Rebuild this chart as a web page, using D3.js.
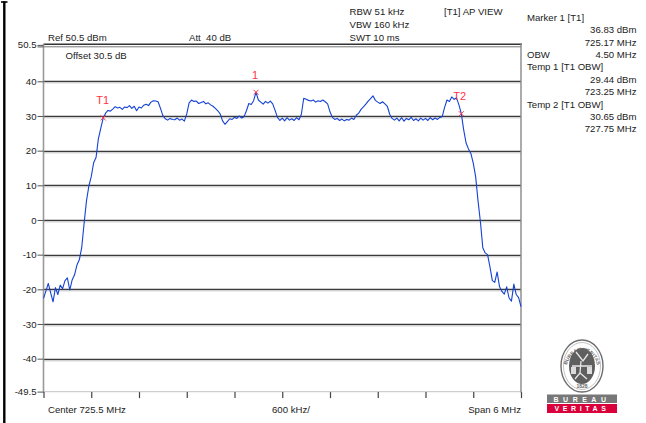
<!DOCTYPE html>
<html><head><meta charset="utf-8">
<script src="https://cdn.jsdelivr.net/npm/d3@7"></script>
<style>
html,body{margin:0;padding:0;background:#fff;}
svg{display:block;font-family:"Liberation Sans",Arial,sans-serif;}
</style></head>
<body><svg id="c" width="646" height="423"></svg>
<script>
// ---- data ----
const freqStart = 722.5, freqStep = 0.03; // MHz
const traceLevels = [
-22.6,-20.5,-18.3,-21.0,-23.6,-19.5,-21.5,-18.8,-19.8,-17.5,
-16.7,-20.2,-17.3,-15.8,-13.0,-11.5,-8.0,-1.0,5.5,9.8,
12.5,16.5,18.0,23.5,26.5,29.4,30.8,31.6,31.4,32.0,
32.7,32.3,32.5,31.9,32.6,32.4,33.0,32.2,32.8,31.5,
32.6,32.3,33.1,33.4,33.0,34.0,34.4,34.3,34.1,32.2,
30.1,29.2,28.8,29.3,29.0,28.9,29.4,28.8,29.1,28.5,
30.6,33.8,34.6,34.2,34.3,33.6,33.9,34.2,33.5,33.8,
33.2,32.8,32.2,31.5,30.6,28.6,27.6,28.4,29.2,29.0,
29.6,29.3,30.0,29.4,29.8,31.5,33.6,33.3,34.4,36.8,
34.6,34.0,33.4,34.2,33.7,34.3,33.5,31.6,29.6,28.7,
29.4,28.6,29.5,28.8,29.2,28.7,29.5,28.9,30.5,35.1,
34.8,34.5,34.3,34.6,34.0,34.4,34.2,34.6,34.1,33.5,
31.2,29.6,29.0,29.3,28.7,29.1,28.6,29.0,28.8,29.4,
29.0,30.2,30.8,31.9,32.6,33.4,34.3,35.0,35.8,34.5,
34.0,33.6,34.1,33.5,32.8,30.5,29.3,28.8,29.4,28.6,
29.5,28.5,29.3,28.9,29.6,28.7,29.2,28.6,29.4,28.8,
29.3,28.7,29.5,28.9,29.4,29.0,29.6,29.8,32.5,34.6,
34.2,35.5,34.8,35.2,33.2,30.7,26.0,22.2,20.5,19.2,
16.4,12.5,5.5,-0.5,-8.0,-9.5,-10.0,-13.5,-17.5,-18.0,
-15.0,-19.2,-20.6,-21.4,-19.3,-22.5,-23.4,-18.5,-21.5,-22.4,
-25.0];
const yTicks = [50.5,40,30,20,10,0,-10,-20,-30,-40,-49.5];
const yTickLabels = ["50.5","40","30","20","10","0","-10","-20","-30","-40","-49.5"];
const xTicks = [722.5,723.1,723.7,724.3,724.9,725.5,726.1,726.7,727.3,727.9,728.5];
const markerNames = ["1","T1","T2"];
const markerFreqs = [725.17,723.25,727.75];
const markerLevels = [36.83,29.44,30.65];
const headerLeft = ["Ref 50.5 dBm","Att\u00a0 40 dB","Offset 30.5 dB"];
const headerMid = ["RBW 51 kHz","VBW 160 kHz","SWT 10 ms"];
const headerView = "[T1] AP VIEW";
const sideLabels = ["Marker 1 [T1]","","","OBW","Temp 1 [T1 OBW]","","","Temp 2 [T1 OBW]","",""];
const sideValues = ["","36.83 dBm","725.17 MHz","4.50 MHz","","29.44 dBm","723.25 MHz","","30.65 dBm","727.75 MHz"];
const footer = ["Center 725.5 MHz","600 kHz/","Span 6 MHz"];

const data = traceLevels.map((v,i)=>({f:freqStart+i*freqStep, v}));

// ---- chart ----
const svg = d3.select("#c");
const L=43.5, R=521, T=44.9, B=391.6;
const x = d3.scaleLinear().domain([722.5,728.5]).range([L,R]);
const y = d3.scaleLinear().domain([-49.5,50.5]).range([B,T]);

// left frame bar
svg.append("line").attr("x1",4.3).attr("x2",4.3).attr("y1",1.5).attr("y2",423).attr("stroke","#000").attr("stroke-width",2.4);
svg.append("line").attr("x1",1).attr("x2",7.5).attr("y1",2).attr("y2",2).attr("stroke","#000").attr("stroke-width",1.6);

// grid
const inner = yTicks.filter(t=>t!==50.5 && t!==-49.5);
svg.append("g").selectAll("line").data(inner).join("line")
  .attr("x1",L).attr("x2",R).attr("y1",d=>Math.round(y(d))+0.5).attr("y2",d=>Math.round(y(d))+0.5)
  .attr("stroke","#3a3a3a").attr("stroke-width",1.5);
svg.append("g").selectAll("line").data(inner).join("line")
  .attr("x1",L).attr("x2",R).attr("y1",d=>Math.round(y(d))+2).attr("y2",d=>Math.round(y(d))+2)
  .attr("stroke","#d8d8d8").attr("stroke-width",1);
// top frame
svg.append("line").attr("x1",L).attr("x2",R+1).attr("y1",44.3).attr("y2",44.3).attr("stroke","#333").attr("stroke-width",1.6);
svg.append("line").attr("x1",L).attr("x2",R).attr("y1",46.8).attr("y2",46.8).attr("stroke","#777").attr("stroke-width",1);
// bottom frame
svg.append("line").attr("x1",L).attr("x2",R).attr("y1",B).attr("y2",B).attr("stroke","#cfcfcf").attr("stroke-width",1.2);
// left & right border
svg.append("line").attr("x1",L).attr("x2",L).attr("y1",44).attr("y2",B+1).attr("stroke","#999").attr("stroke-width",1.6);
svg.append("line").attr("x1",R).attr("x2",R).attr("y1",44).attr("y2",B+1).attr("stroke","#888").attr("stroke-width",1.4);

// y axis
const yAxis = d3.axisLeft(y).tickValues(yTicks).tickFormat((d,i)=>yTickLabels[i]).tickSize(6).tickPadding(1);
const gy = svg.append("g").attr("transform",`translate(${L},0)`).call(yAxis);
gy.select(".domain").remove();
gy.selectAll("line").attr("stroke","#555");
gy.selectAll("text").attr("font-size","9.6px").attr("fill","#222").attr("font-family","Liberation Sans, Arial, sans-serif");
svg.append("line").attr("x1",L-6).attr("x2",L).attr("y1",y(50.5)+2).attr("y2",y(50.5)+2).attr("stroke","#555");

// x axis ticks
const xAxis = d3.axisBottom(x).tickValues(xTicks).tickSize(6).tickFormat("");
const gx = svg.append("g").attr("transform",`translate(0,${B+0.5})`).call(xAxis);
gx.select(".domain").remove();
gx.selectAll("line").attr("stroke","#444").attr("stroke-width",1.2);

// trace
const line = d3.line().x(d=>x(d.f)).y(d=>y(d.v));
svg.append("path").datum(data).attr("d",line).attr("fill","none")
  .attr("stroke","#1442d4").attr("stroke-width",1.1).attr("stroke-linejoin","round");

// markers
const mk = markerNames.map((n,i)=>({n,f:markerFreqs[i],v:markerLevels[i]}));
const mg = svg.append("g").selectAll("g").data(mk).join("g")
  .attr("transform",d=>`translate(${x(d.f)},${y(d.v)})`);
mg.append("path").attr("d","M-2.5,-2.5L2.5,2.5M-2.5,2.5L2.5,-2.5").attr("stroke","#ff3344").attr("stroke-width",1);
mg.append("text").text(d=>d.n)
  .attr("x",d=>d.n==="1"?-1:(d.n==="T1"?-7:-8))
  .attr("y",-13.5)
  .attr("font-size","11px").attr("fill","#ff3344")
  .attr("text-anchor",d=>d.n==="1"?"middle":"start");

// header text
const tx = (s,xx,yy,anchor="start",size="9.6px")=>svg.append("text").text(s).attr("x",xx).attr("y",yy)
  .attr("font-size",size).attr("fill","#222").attr("text-anchor",anchor);
tx(headerLeft[0],48,40.6);
tx(headerLeft[1],189,40.6);
tx(headerLeft[2],65.5,58.5);
headerMid.forEach((s,i)=>tx(s,349.5,15+i*12.8));
tx(headerView,444,15);
sideLabels.forEach((s,i)=>{ if(s) tx(s,527,20.8+i*12.4); });
sideValues.forEach((s,i)=>{ if(s) tx(s,636.5,20.8+i*12.4,"end"); });
tx(footer[0],48,413);
tx(footer[1],272,413);
tx(footer[2],521,413,"end");

// logo (Bureau Veritas)
const lg = svg.append("g");
const cx=582, cy=366;
lg.append("ellipse").attr("cx",cx).attr("cy",cy).attr("rx",21).attr("ry",26).attr("fill","#fff").attr("stroke","#6d6d6d").attr("stroke-width",1.4);
lg.append("ellipse").attr("cx",cx).attr("cy",cy).attr("rx",18.5).attr("ry",23.5).attr("fill","none").attr("stroke","#9a9a9a").attr("stroke-width",0.6);
lg.append("ellipse").attr("cx",cx).attr("cy",cy).attr("rx",13).attr("ry",18).attr("fill","#5f5f5f");
lg.append("defs").append("path").attr("id","arc").attr("d",`M${cx-16},${cy+6} A16,21 0 1,1 ${cx+16},${cy+6}`);
lg.append("text").attr("font-size","5px").attr("fill","#666").attr("font-weight","bold")
  .append("textPath").attr("href","#arc").attr("startOffset","50%").attr("text-anchor","middle").text("BUREAU VERITAS");
lg.append("text").attr("x",cx).attr("y",cy+22).attr("font-size","5px").attr("fill","#666").attr("font-weight","bold").attr("text-anchor","middle").text("1828");
lg.append("path").attr("d",`M${cx-6},${cy-14} L${cx+1},${cy-5} L${cx+6},${cy-12} M${cx-1},${cy-5} L${cx-2},${cy+7} L${cx-7},${cy+13} M${cx-2},${cy+7} L${cx+5},${cy+13} M${cx-10},${cy} L${cx+10},${cy}`)
  .attr("stroke","#e8e8e8").attr("stroke-width",1.3).attr("fill","none");
lg.append("rect").attr("x",cx-11).attr("y",cy+1).attr("width",5).attr("height",7).attr("fill","#dcdcdc");
lg.append("rect").attr("x",cx+5).attr("y",cy+1).attr("width",5).attr("height",7).attr("fill","#dcdcdc");
lg.append("rect").attr("x",547).attr("y",394.5).attr("width",70).attr("height",8.5).attr("fill","#777");
lg.append("rect").attr("x",547).attr("y",404).attr("width",70).attr("height",9).attr("fill","#d9003b");
lg.append("text").attr("x",582).attr("y",401.8).attr("font-size","7px").attr("fill","#fff").attr("font-weight","bold")
  .attr("text-anchor","middle").attr("letter-spacing","4.5px").text("BUREAU");
lg.append("text").attr("x",582).attr("y",411.3).attr("font-size","7px").attr("fill","#fff").attr("font-weight","bold")
  .attr("text-anchor","middle").attr("letter-spacing","3.6px").text("VERITAS");
</script></body></html>
